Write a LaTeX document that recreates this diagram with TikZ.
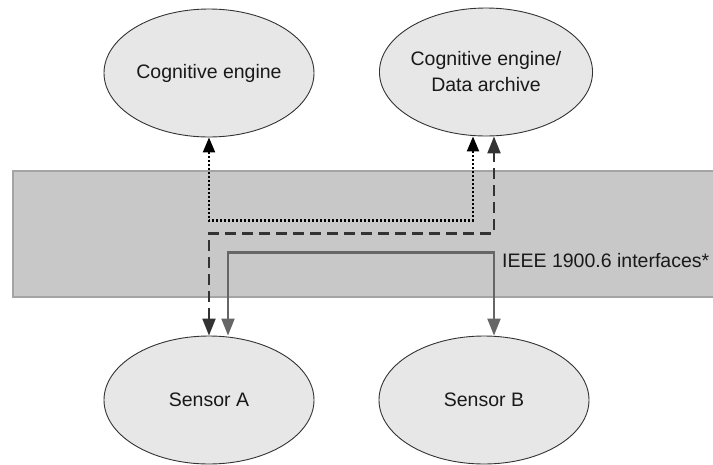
\documentclass[tikz,border=0pt]{standalone}
\usepackage{fontspec}
\setmainfont{Liberation Sans}
\usetikzlibrary{arrows.meta, shapes.geometric, positioning}
\definecolor{bandgray}{HTML}{C8C8C8}
\definecolor{bandline}{HTML}{A4A4A4}
\definecolor{ovalgray}{HTML}{E7E7E7}
\definecolor{linkgray}{HTML}{666666}
\definecolor{dashgray}{HTML}{333333}

\begin{document}
\begin{tikzpicture}[x=1pt,y=-1pt]
\tikzstyle{every node}+=[inner sep=0pt, font=\fontsize{19.5}{24}\selectfont, text=black!90]
\tikzstyle{oval}=[ellipse, draw=black!80, line width=0.9pt, fill=ovalgray, minimum width=210pt, minimum height=128pt, align=center]
\tikzstyle{tipblack}=[{Triangle[length=15pt,width=12pt]}-{Triangle[length=15pt,width=12pt]}]
\tikzstyle{tipgray}=[{Triangle[length=17pt,width=13pt]}-{Triangle[length=17pt,width=13pt]}]
\useasboundingbox (0,0) rectangle (713,464);
\draw [bandline, fill=bandgray, line width=1.2pt] (13,171) rectangle (730,297);
\node [oval] (ce) at (209,73) {Cognitive engine};
\node [oval] (cda) at (486,72) {Cognitive engine/\\[2pt]Data archive};
\node [oval] (sa) at (209,400) {Sensor A};
\node [oval] (sb) at (484,400) {Sensor B};
\node [anchor=west] (lbl) at (502,261) {IEEE 1900.6 interfaces*};
\draw [black, line width=2.2pt, dash pattern=on 2pt off 2pt, tipblack] (ce.south) -- ++(0,83) -| ([xshift=-13pt]cda.south);
\draw [dashgray, line width=2.2pt, dash pattern=on 11pt off 6pt, tipgray] (sa.north) -- ++(0,-102) -| ([xshift=8pt]cda.south);
\draw [linkgray, line width=2.2pt, tipgray] ([xshift=19pt]sa.north) -- ++(0,-83) -| ([xshift=10pt]sb.north);
\end{tikzpicture}
\end{document}
